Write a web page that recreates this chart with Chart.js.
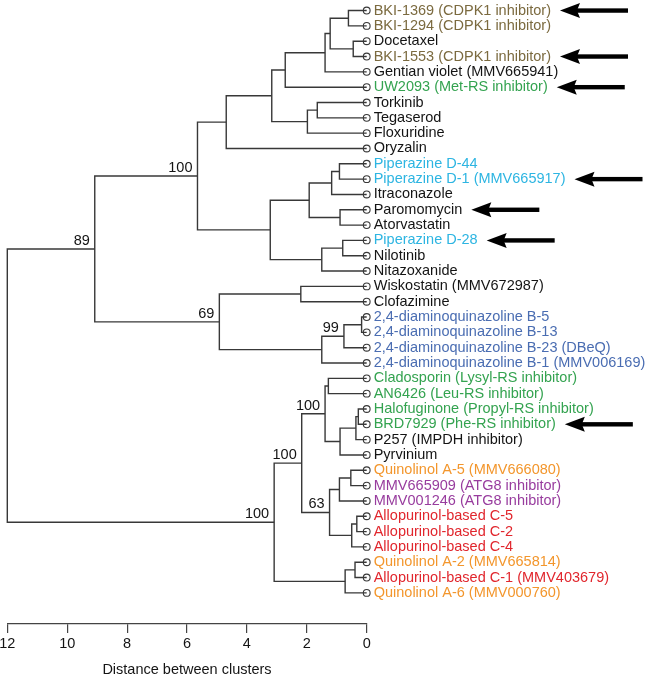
<!DOCTYPE html>
<html>
<head>
<meta charset="utf-8">
<script src="https://cdn.jsdelivr.net/npm/chart.js@4.4.1/dist/chart.umd.min.js"></script>
<style>
  html, body { margin: 0; padding: 0; background: #fff; }
  #wrap { width: 645px; height: 675px; position: relative; }
</style>
</head>
<body>
<div id="wrap"><canvas id="myChart"></canvas></div>
<script>
// leaves, top to bottom
const leafNames = [
  'BKI-1369 (CDPK1 inhibitor)', 'BKI-1294 (CDPK1 inhibitor)', 'Docetaxel',
  'BKI-1553 (CDPK1 inhibitor)', 'Gentian violet (MMV665941)', 'UW2093 (Met-RS inhibitor)',
  'Torkinib', 'Tegaserod', 'Floxuridine', 'Oryzalin',
  'Piperazine D-44', 'Piperazine D-1 (MMV665917)', 'Itraconazole', 'Paromomycin', 'Atorvastatin',
  'Piperazine D-28', 'Nilotinib', 'Nitazoxanide', 'Wiskostatin (MMV672987)', 'Clofazimine',
  '2,4-diaminoquinazoline B-5', '2,4-diaminoquinazoline B-13', '2,4-diaminoquinazoline B-23 (DBeQ)',
  '2,4-diaminoquinazoline B-1 (MMV006169)',
  'Cladosporin (Lysyl-RS inhibitor)', 'AN6426 (Leu-RS inhibitor)', 'Halofuginone (Propyl-RS inhibitor)',
  'BRD7929 (Phe-RS inhibitor)', 'P257 (IMPDH inhibitor)', 'Pyrvinium',
  'Quinolinol A-5 (MMV666080)', 'MMV665909 (ATG8 inhibitor)', 'MMV001246 (ATG8 inhibitor)',
  'Allopurinol-based C-5', 'Allopurinol-based C-2', 'Allopurinol-based C-4',
  'Quinolinol A-2 (MMV665814)', 'Allopurinol-based C-1 (MMV403679)', 'Quinolinol A-6 (MMV000760)'
];
const leafGroups = [
  'cdpk', 'cdpk', 'plain', 'cdpk', 'plain', 'rs',
  'plain', 'plain', 'plain', 'plain',
  'pip', 'pip', 'plain', 'plain', 'plain',
  'pip', 'plain', 'plain', 'plain', 'plain',
  'quin', 'quin', 'quin', 'quin',
  'rs', 'rs', 'rs', 'rs', 'plain', 'plain',
  'qnl', 'atg', 'atg', 'allo', 'allo', 'allo',
  'qnl', 'allo', 'qnl'
];

// merges: ids 0..38 are leaves, merge k creates id 39 + k
const mergeLeft   = [0, 2, 39, 41, 42, 6, 44, 43, 46, 10, 48, 13, 49, 15, 52, 51, 47, 18, 20, 57, 58, 56, 55,
                     24, 26, 63, 64, 62, 30, 67, 33, 69, 68, 66, 36, 73, 72, 61];
const mergeRight  = [1, 3, 40, 4, 5, 7, 8, 45, 9, 11, 12, 14, 50, 16, 17, 53, 54, 19, 21, 22, 23, 59, 60,
                     25, 27, 28, 29, 65, 31, 32, 34, 35, 70, 71, 37, 38, 74, 75];
const mergeHeight = [0.61, 0.45, 1.22, 1.39, 2.72, 1.65, 1.98, 3.17, 4.69, 0.91, 1.17, 0.89, 1.92, 0.80, 1.50, 3.22,
                     5.65, 2.20, 0.17, 0.76, 1.50, 4.92, 9.08,
                     1.28, 0.28, 0.36, 0.89, 1.39, 0.53, 0.91, 0.33, 0.50, 1.24, 2.17, 0.39, 0.72, 3.09, 12.0];

// bootstrap support, by merge index
const bootMerge = [16, 19, 21, 22, 27, 32, 33, 36];
const bootValue = [100, 99, 69, 89, 100, 63, 100, 100];

const arrowLeaves = [0, 3, 5, 11, 13, 15, 27];
const xTicks = [0, 2, 4, 6, 8, 10, 12];

const groupColors = {
  plain: '#141414',
  cdpk: '#7b6a3f',
  rs: '#34a350',
  pip: '#2db5e2',
  quin: '#4a6db2',
  qnl: '#f3962c',
  atg: '#983c9e',
  allo: '#e1262d'
};

const FONT = '"Liberation Sans", Arial, Helvetica, sans-serif';
const lineCol = '#383838';

// node positions
const nodeX = leafNames.map(() => 0);
const nodeY = leafNames.map((_, i) => i);
mergeLeft.forEach((a, k) => {
  nodeX.push(mergeHeight[k]);
  nodeY.push((nodeY[a] + nodeY[mergeRight[k]]) / 2);
});

const branchSets = mergeLeft.map((a, k) => {
  const b = mergeRight[k], n = leafNames.length + k;
  return {
    data: [
      {x: nodeX[a], y: nodeY[a]}, {x: nodeX[n], y: nodeY[a]},
      {x: nodeX[n], y: nodeY[b]}, {x: nodeX[b], y: nodeY[b]}
    ],
    showLine: true,
    borderColor: lineCol,
    borderWidth: 1.4,
    pointRadius: 0,
    tension: 0,
    clip: false
  };
});

const leafSet = {
  data: leafNames.map((_, i) => ({x: 0, y: i})),
  showLine: false,
  pointStyle: 'circle',
  pointRadius: 3.4,
  backgroundColor: 'rgba(0,0,0,0)',
  borderColor: lineCol,
  borderWidth: 1.1,
  clip: false
};

const annotate = {
  id: 'annotate',
  afterDraw(chart) {
    const {ctx} = chart;
    const x = chart.scales.x, y = chart.scales.y;
    ctx.save();
    ctx.font = '14.5px ' + FONT;
    ctx.fillStyle = '#141414';
    ctx.textAlign = 'right';
    ctx.textBaseline = 'alphabetic';
    bootMerge.forEach((k, j) => {
      const n = leafNames.length + k;
      ctx.fillText(String(bootValue[j]), x.getPixelForValue(nodeX[n]) - 5, y.getPixelForValue(nodeY[n]) - 4);
    });

    // arrows pointing at the hits
    ctx.fillStyle = '#000';
    arrowLeaves.forEach(i => {
      const py = y.getPixelForValue(i);
      const tip = chart.chartArea.right + 7 + ctx.measureText(leafNames[i]).width + 9;
      ctx.beginPath();
      ctx.moveTo(tip, py);
      ctx.lineTo(tip + 20, py - 7.5);
      ctx.lineTo(tip + 17, py);
      ctx.lineTo(tip + 20, py + 7.5);
      ctx.closePath();
      ctx.fill();
      ctx.fillRect(tip + 15, py - 2.2, 53, 4.4);
    });
    ctx.restore();
  }
};

const ctx = document.getElementById('myChart').getContext('2d');
const myChart = new Chart(ctx, {
  type: 'scatter',
  data: {datasets: [...branchSets, leafSet]},
  plugins: [annotate],
  options: {
    responsive: true,
    maintainAspectRatio: false,
    animation: false,
    events: [],
    layout: {padding: {left: 7.3, top: 0, right: 0, bottom: 0}},
    plugins: {legend: {display: false}, tooltip: {enabled: false}},
    scales: {
      x: {
        type: 'linear', position: 'bottom', min: 0, max: 12, reverse: true,
        afterBuildTicks: s => { s.ticks = xTicks.map(v => ({value: v})); },
        afterFit: s => { s.height = 51; s.paddingLeft = 0; s.paddingRight = 0; },
        grid: {drawOnChartArea: false, drawTicks: true, tickLength: 9, color: '#444', lineWidth: 1.2},
        border: {display: true, color: '#444', width: 1.2},
        ticks: {color: '#141414', font: {family: FONT, size: 14.5}, padding: 2, maxRotation: 0, autoSkip: false},
        title: {display: true, text: 'Distance between clusters', color: '#141414',
                font: {family: FONT, size: 14.5, lineHeight: 1}, padding: {top: 0, bottom: -2}}
      },
      y: {
        type: 'linear', position: 'right', min: -0.356, max: 40.03, reverse: true,
        afterBuildTicks: s => { s.ticks = leafNames.map((_, i) => ({value: i})); },
        afterFit: s => { s.width = 645 - 366.7; s.paddingTop = 0; s.paddingBottom = 0; },
        grid: {display: false, drawTicks: false},
        border: {display: false},
        ticks: {
          autoSkip: false, padding: 7,
          font: {family: FONT, size: 14.5},
          color: c => groupColors[leafGroups[c.tick.value]],
          callback: v => leafNames[v]
        }
      }
    }
  }
});
</script>
</body>
</html>
